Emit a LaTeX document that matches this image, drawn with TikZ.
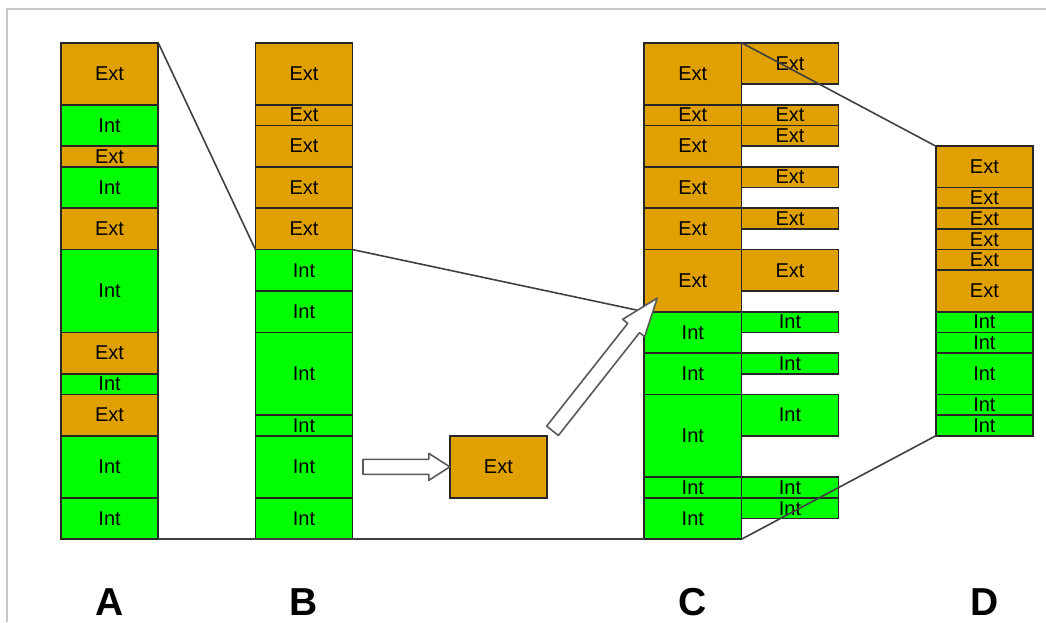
\documentclass[tikz,border=0pt]{standalone}
\usepackage{fontspec}
\setmainfont{Liberation Sans}
\usepackage{tikz}
\usetikzlibrary{positioning, calc}
\definecolor{extcol}{HTML}{E0A000}
\definecolor{intcol}{HTML}{00FF00}

% hollow block arrow: tail, tip, head length, head half width
\newcommand\hollowarr[4]{%
  \draw[harrow] ($(#1)!7.5pt!90:(#2)$)
    -- ($($(#2)!#3!(#1)$)!7.5pt!-90:(#1)$)
    -- ($($(#2)!#3!(#1)$)!#4!-90:(#1)$)
    -- (#2)
    -- ($($(#2)!#3!(#1)$)!#4!90:(#1)$)
    -- ($($(#2)!#3!(#1)$)!7.5pt!90:(#1)$)
    -- ($(#1)!7.5pt!-90:(#2)$) -- cycle;}

\begin{document}
\begin{tikzpicture}[
  x=1pt, y=1pt,
  blk/.style={draw=black!85, line width=1.7pt, inner sep=0pt, outer sep=0pt,
              minimum width=97.2pt, font=\fontsize{20}{22}\selectfont},
  ext/.style={blk, fill=extcol, minimum height=#1*20.69pt},
  int/.style={blk, fill=intcol, minimum height=#1*20.69pt},
  link/.style={draw=black!75, line width=1.6pt},
  harrow/.style={draw=black!65, fill=white, line width=1.6pt, line join=round},
  lbl/.style={anchor=base, font=\fontsize{39}{40}\selectfont\bfseries},
  pageframe/.style={draw=black!22, line width=2pt},
]
  \useasboundingbox (0,0) rectangle (1046,622);
  \draw[pageframe] (7,0) |- (1046,613);

  % Column A
  \node[ext=3, anchor=north west] (a1) at (61,579.3) {Ext};
  \node[int=2, below=0pt of a1] (a2) {Int};
  \node[ext=1, below=0pt of a2] (a3) {Ext};
  \node[int=2, below=0pt of a3] (a4) {Int};
  \node[ext=2, below=0pt of a4] (a5) {Ext};
  \node[int=4, below=0pt of a5] (a6) {Int};
  \node[ext=2, below=0pt of a6] (a7) {Ext};
  \node[int=1, below=0pt of a7] (a8) {Int};
  \node[ext=2, below=0pt of a8] (a9) {Ext};
  \node[int=3, below=0pt of a9] (a10) {Int};
  \node[int=2, below=0pt of a10] (a11) {Int};

  % Column B
  \node[ext=3, right=97.2pt of a1] (b1) {Ext};
  \node[ext=1, below=0pt of b1] (b2) {Ext};
  \node[ext=2, below=0pt of b2] (b3) {Ext};
  \node[ext=2, below=0pt of b3] (b4) {Ext};
  \node[ext=2, below=0pt of b4] (b5) {Ext};
  \node[int=2, below=0pt of b5] (b6) {Int};
  \node[int=2, below=0pt of b6] (b7) {Int};
  \node[int=4, below=0pt of b7] (b8) {Int};
  \node[int=1, below=0pt of b8] (b9) {Int};
  \node[int=3, below=0pt of b9] (b10) {Int};
  \node[int=2, below=0pt of b10] (b11) {Int};

  % Moved block
  \node[ext=3, right=97.2pt of b10] (move) {Ext};

  % Column C
  \node[ext=3, right=291.6pt of b1] (c1) {Ext};
  \node[ext=1, below=0pt of c1] (c2) {Ext};
  \node[ext=2, below=0pt of c2] (c3) {Ext};
  \node[ext=2, below=0pt of c3] (c4) {Ext};
  \node[ext=2, below=0pt of c4] (c5) {Ext};
  \node[ext=3, below=0pt of c5] (c6) {Ext};
  \node[int=2, below=0pt of c6] (c7) {Int};
  \node[int=2, below=0pt of c7] (c8) {Int};
  \node[int=4, below=0pt of c8] (c9) {Int};
  \node[int=1, below=0pt of c9] (c10) {Int};
  \node[int=2, below=0pt of c10] (c11) {Int};

  % Column C, side blocks
  \node[ext=2, anchor=north west] (cs1) at (c1.north east) {Ext};
  \node[ext=1, anchor=north west] (cs2) at (c2.north east) {Ext};
  \node[ext=1, anchor=north west] (cs3) at (c3.north east) {Ext};
  \node[ext=1, anchor=north west] (cs4) at (c4.north east) {Ext};
  \node[ext=1, anchor=north west] (cs5) at (c5.north east) {Ext};
  \node[ext=2, anchor=north west] (cs6) at (c6.north east) {Ext};
  \node[int=1, anchor=north west] (cs7) at (c7.north east) {Int};
  \node[int=1, anchor=north west] (cs8) at (c8.north east) {Int};
  \node[int=2, anchor=north west] (cs9) at (c9.north east) {Int};
  \node[int=1, anchor=north west] (cs10) at (c10.north east) {Int};
  \node[int=1, anchor=north west] (cs11) at (c11.north east) {Int};

  % Column D
  \node[ext=2, anchor=north west] (d1) at ([shift={(97.2,-103.45)}]cs1.north east) {Ext};
  \node[ext=1, below=0pt of d1] (d2) {Ext};
  \node[ext=1, below=0pt of d2] (d3) {Ext};
  \node[ext=1, below=0pt of d3] (d4) {Ext};
  \node[ext=1, below=0pt of d4] (d5) {Ext};
  \node[ext=2, below=0pt of d5] (d6) {Ext};
  \node[int=1, below=0pt of d6] (d7) {Int};
  \node[int=1, below=0pt of d7] (d8) {Int};
  \node[int=2, below=0pt of d8] (d9) {Int};
  \node[int=1, below=0pt of d9] (d10) {Int};
  \node[int=1, below=0pt of d10] (d11) {Int};

  % Labels
  \coordinate (labelrow) at (0,7);
  \node[lbl] (la) at (a11 |- labelrow) {A};
  \node[lbl] (lb) at (b11 |- labelrow) {B};
  \node[lbl] (lc) at (c11 |- labelrow) {C};
  \node[lbl] (ld) at (d11 |- labelrow) {D};

  % Zoom lines
  \draw[link] (a1.north east) -- (b6.north west);
  \draw[link] (b6.north east) -- (c7.north west);
  \draw[link] (a11.south east) -- (c11.south west);
  \draw[link] (c1.north east) -- (d1.north west);
  \draw[link] (c11.south east) -- (d11.south west);

  % Hollow arrows
  \coordinate (htail) at ([xshift=10.4pt]b10.east);
  \coordinate (dtail) at ([shift={(5.5,5)}]move.north east);
  \coordinate (dtip) at ([shift={(13,13.5)}]c6.south west);
  \hollowarr{htail}{move.west}{21pt}{13.5pt}
  \hollowarr{dtail}{dtip}{38pt}{14pt}

\end{tikzpicture}
\end{document}
